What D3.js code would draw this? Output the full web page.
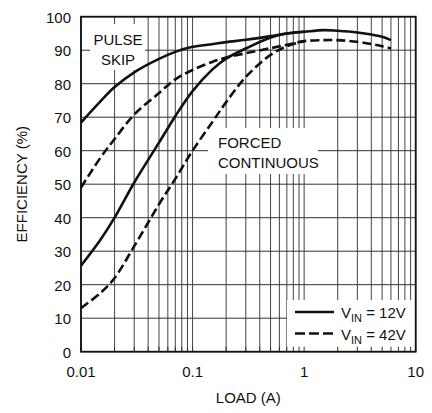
<!DOCTYPE html>
<html><head><meta charset="utf-8">
<script src="https://cdn.jsdelivr.net/npm/d3@7"></script>
<style>
html,body{margin:0;padding:0;background:#fff;}
text{font-family:Arial,"Liberation Sans",Helvetica,sans-serif;fill:#111;}
</style></head>
<body>
<svg id="chart" width="432" height="413"></svg>
<script>
// ---- data ----
const loadPS = [0.01, 0.015, 0.02, 0.03, 0.05, 0.07, 0.1, 0.15, 0.2, 0.3, 0.5, 0.7, 1, 1.5, 2, 3, 4, 5, 6];
const eff12PS = [68.4, 74.8, 79, 83.4, 87.4, 89.5, 91, 91.8, 92.4, 93.1, 94.2, 95, 95.5, 96, 95.8, 95.3, 94.7, 94, 93];
const eff42PS = [49, 58, 63.5, 70.8, 77.2, 81.3, 84.1, 86.5, 87.8, 89.1, 90.6, 91.6, 92.7, 93, 93, 92.5, 91.8, 91.2, 90.5];
const loadFC = [0.01, 0.015, 0.02, 0.03, 0.05, 0.07, 0.1, 0.15, 0.2, 0.3, 0.5, 0.7, 1];
const eff12FC = [25.7, 33.5, 40, 50.5, 62.4, 70.3, 77.8, 84.2, 87.5, 90.5, 93.8, 95, 95.5];
const eff42FC = [13, 17.6, 22, 31.5, 44, 51.6, 60, 68.5, 74.5, 82, 88.6, 91.2, 92.7];
const xTickLabels = ["0.01", "0.1", "1", "10"];
const xTickValues = [0.01, 0.1, 1, 10];
const yTickValues = [0, 10, 20, 30, 40, 50, 60, 70, 80, 90, 100];
const legendLabels = [["V", "IN", " = 12V"], ["V", "IN", " = 42V"]];

// ---- layout ----
const L = 81, R = 415.7, T = 16.7, B = 351.7;
const svg = d3.select("#chart");
const x = d3.scaleLog().domain([0.01, 10]).range([L, R]);
const y = d3.scaleLinear().domain([0, 100]).range([B, T]);

// minor grid values
const minor = [];
[0.01, 0.1, 1].forEach(d => { for (let k = 1; k <= 10; k++) minor.push(d * k); });
const gridX = Array.from(new Set(minor.map(v => +v.toPrecision(3))));

const g = svg.append("g");
g.selectAll("line.vx").data(gridX).enter().append("line")
  .attr("x1", d => x(d)).attr("x2", d => x(d)).attr("y1", T).attr("y2", B)
  .attr("stroke", "#444").attr("stroke-width", 1);
g.selectAll("line.hy").data(yTickValues).enter().append("line")
  .attr("x1", L).attr("x2", R).attr("y1", d => y(d)).attr("y2", d => y(d))
  .attr("stroke", "#333").attr("stroke-width", 1);

// white label boxes
svg.append("rect").attr("x", 90).attr("y", 24).attr("width", 55).attr("height", 46).attr("fill", "#fff");
svg.append("rect").attr("x", 208).attr("y", 128).attr("width", 110).attr("height", 46).attr("fill", "#fff");
svg.append("rect").attr("x", 287).attr("y", 300).attr("width", R - 287).attr("height", B - 300).attr("fill", "#fff");

// bottom inner ticks
svg.selectAll("line.tk").data(gridX).enter().append("line")
  .attr("x1", d => x(d)).attr("x2", d => x(d)).attr("y1", B).attr("y2", B - 5)
  .attr("stroke", "#333").attr("stroke-width", 1);

// curves
const line = d3.line().x(d => x(d[0])).y(d => y(d[1])).curve(d3.curveCatmullRom.alpha(0.5));
function draw(loads, vals, dashed) {
  svg.append("path").datum(loads.map((l, i) => [l, vals[i]]))
    .attr("d", line).attr("fill", "none").attr("stroke", "#111")
    .attr("stroke-width", 2.6)
    .attr("stroke-dasharray", dashed ? "9,4" : null);
}
draw(loadPS, eff12PS, false);
draw(loadPS, eff42PS, true);
draw(loadFC, eff12FC, false);
draw(loadFC, eff42FC, true);

// frame
svg.append("rect").attr("x", L).attr("y", T).attr("width", R - L).attr("height", B - T)
  .attr("fill", "none").attr("stroke", "#111").attr("stroke-width", 1.8);

// tick labels
svg.selectAll("text.xt").data(xTickValues).enter().append("text")
  .attr("x", d => x(d)).attr("y", 377).attr("text-anchor", "middle")
  .attr("font-size", 15).text((d, i) => xTickLabels[i]);
svg.selectAll("text.yt").data(yTickValues).enter().append("text")
  .attr("x", 71).attr("y", d => y(d) + 6).attr("text-anchor", "end")
  .attr("font-size", 15).text(d => d);

// axis titles
svg.append("text").attr("x", (L + R) / 2).attr("y", 403).attr("text-anchor", "middle")
  .attr("font-size", 15).text("LOAD (A)");
svg.append("text").attr("transform", `translate(27,${(T + B) / 2}) rotate(-90)`)
  .attr("text-anchor", "middle").attr("font-size", 15).text("EFFICIENCY (%)");

// annotations
svg.append("text").attr("x", 118).attr("y", 45).attr("text-anchor", "middle").attr("font-size", 15).text("PULSE");
svg.append("text").attr("x", 118).attr("y", 65).attr("text-anchor", "middle").attr("font-size", 15).text("SKIP");
svg.append("text").attr("x", 218).attr("y", 148).attr("font-size", 15).text("FORCED");
svg.append("text").attr("x", 218).attr("y", 168).attr("font-size", 15).text("CONTINUOUS");

// legend
const ly = [312, 333.5];
[false, true].forEach((dashed, i) => {
  svg.append("line").attr("x1", 295).attr("x2", 334).attr("y1", ly[i]).attr("y2", ly[i])
    .attr("stroke", "#111").attr("stroke-width", 2.6)
    .attr("stroke-dasharray", dashed ? "10,4" : null);
  const t = svg.append("text").attr("x", 341).attr("y", ly[i] + 6).attr("font-size", 15);
  t.append("tspan").text(legendLabels[i][0]);
  t.append("tspan").attr("font-size", 11).attr("dy", 4).text(legendLabels[i][1]);
  t.append("tspan").attr("dy", -4).text(legendLabels[i][2]);
});
</script>
</body></html>
